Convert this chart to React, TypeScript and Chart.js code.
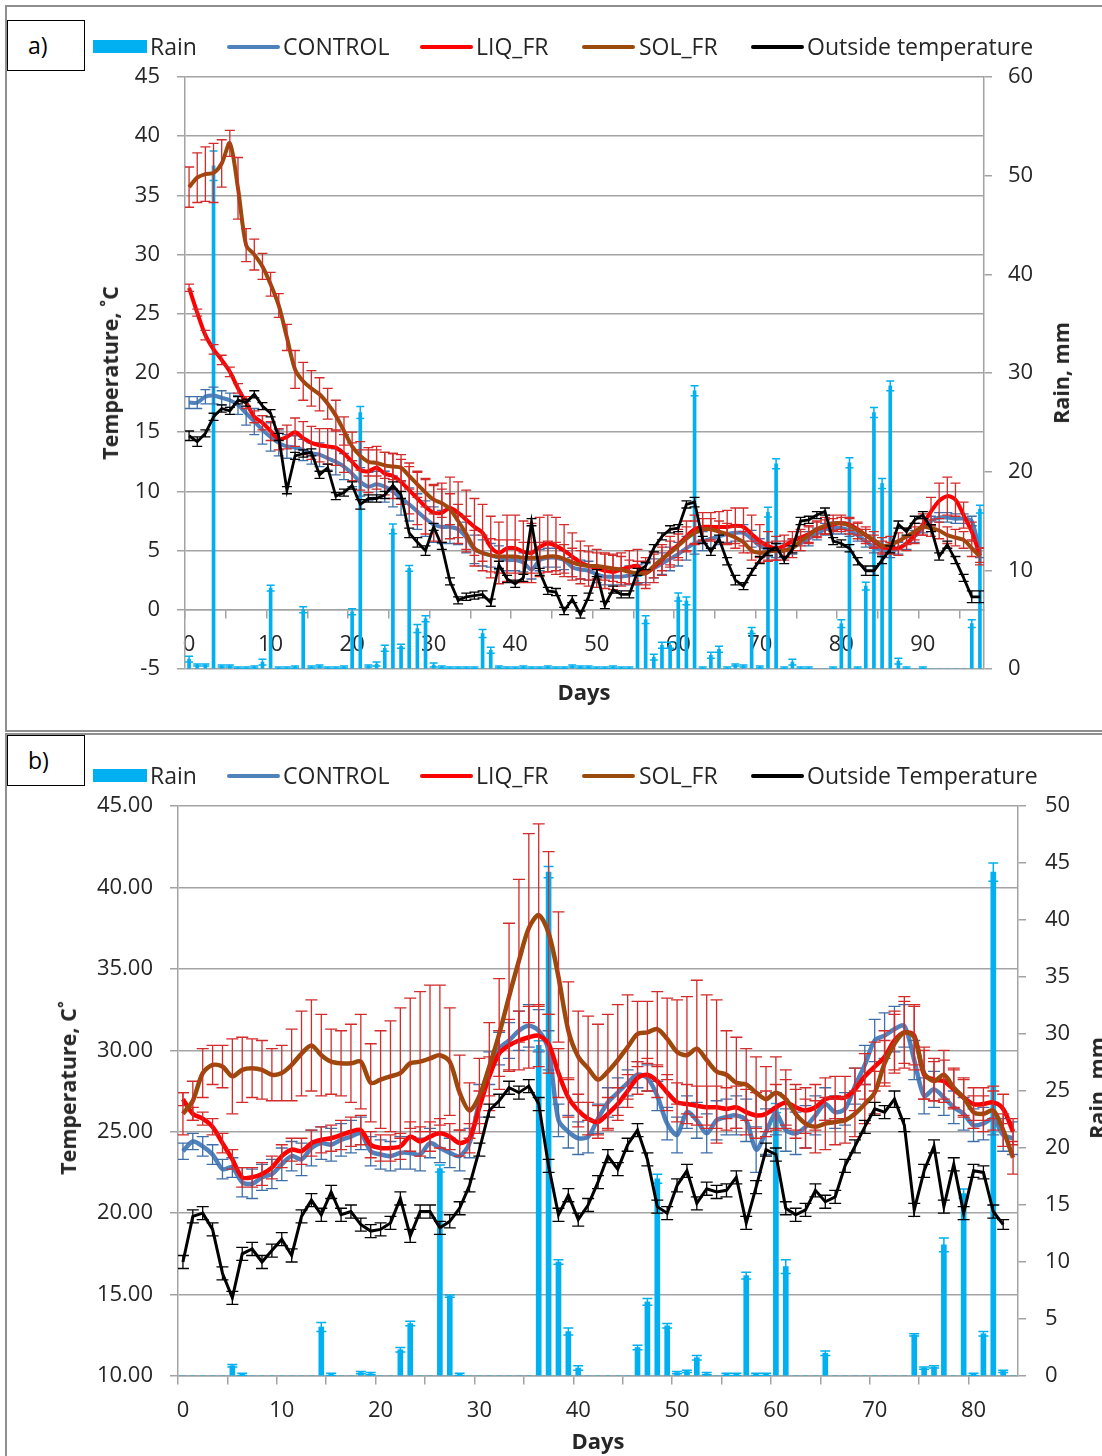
import React, { useEffect, useRef } from 'react';
import { Chart, registerables } from 'chart.js';

Chart.register(...registerables);

const FONT = '"Open Sans", Lato, "DejaVu Sans", sans-serif';
const GRID = '#a3a3a3';
const TEXT = '#262626';
const RAIN_COLOR = '#00B0F0';
const CONTROL_COLOR = '#4F81BD';
const LIQ_COLOR = '#FF0000';
const SOL_COLOR = '#9A4A0B';
const OUT_COLOR = '#000000';
const ERR_RED = '#D42A2A';
const ERR_BLUE = '#3F6FA8';

// ---------- Panel a: days 0..97 ----------
const daysA = Array.from({ length: 98 }, (_, i) => String(i));
const namesA = ['Rain', 'CONTROL', 'LIQ_FR', 'SOL_FR', 'Outside temperature'];

const rainA = [
  1.0, 0.4, 0.4, 51.0, 0.3, 0.3, 0.1, 0.1, 0.2, 0.7,
  8.2, 0.1, 0.1, 0.2, 6.0, 0.2, 0.3, 0.1, 0.1, 0.2,
  5.8, 26.0, 0.3, 0.5, 2.1, 14.2, 2.3, 10.2, 4.1, 5.1,
  0.4, 0.2, 0.1, 0.1, 0.1, 0.1, 3.6, 1.9, 0.2, 0.1,
  0.1, 0.2, 0.1, 0.1, 0.2, 0.1, 0.1, 0.3, 0.2, 0.2,
  0.1, 0.1, 0.2, 0.1, 0.1, 9.0, 5.0, 1.2, 2.4, 2.4,
  7.3, 6.9, 28.2, 0.1, 1.4, 2.0, 0.1, 0.4, 0.3, 3.9,
  0.2, 15.9, 20.8, 0.1, 0.7, 0.1, 0.1, 0, 0, 0.1,
  4.6, 20.9, 0.1, 8.4, 26.0, 18.8, 28.7, 0.8, 0.1, 0,
  0.1, 0, 0, 0, 0, 0, 4.6, 16.2,
];
const rainErrA = [
  0.3, 0.1, 0.1, 1.5, 0.1, 0.1, 0.1, 0.1, 0.1, 0.3,
  0.3, 0.1, 0.1, 0.1, 0.3, 0.1, 0.1, 0.1, 0.1, 0.1,
  0.3, 0.6, 0.1, 0.2, 0.3, 0.5, 0.2, 0.3, 0.4, 0.3,
  0.2, 0.1, 0.1, 0.1, 0.1, 0.1, 0.4, 0.3, 0.1, 0.1,
  0.1, 0.1, 0.1, 0.1, 0.1, 0.1, 0.1, 0.1, 0.1, 0.1,
  0.1, 0.1, 0.1, 0.1, 0.1, 0.4, 0.4, 0.3, 0.3, 0.3,
  0.4, 0.4, 0.5, 0.1, 0.3, 0.3, 0.1, 0.1, 0.1, 0.3,
  0.1, 0.5, 0.5, 0.1, 0.3, 0.1, 0.1, 0, 0, 0.1,
  0.4, 0.5, 0.1, 0.4, 0.5, 0.5, 0.5, 0.3, 0.1, 0,
  0.1, 0, 0, 0, 0, 0, 0.4, 0.4,
];
const controlA = [
  17.5, 17.5, 18.0, 18.1, 17.9, 17.7, 17.3, 16.6, 15.9, 15.2,
  14.6, 14.1, 13.8, 13.7, 13.5, 13.2, 13.1, 12.8, 12.5, 12.1,
  11.5, 10.8, 10.4, 10.6, 10.4, 10.0, 9.4, 8.9, 8.3, 7.7,
  7.2, 7.0, 7.0, 6.8, 6.1, 5.1, 4.8, 4.6, 4.4, 4.2,
  4.2, 4.0, 3.4, 4.2, 4.4, 4.4, 4.2, 3.6, 3.4, 3.3,
  3.0, 2.8, 2.8, 2.8, 2.9, 3.0, 3.1, 3.5, 3.9, 4.3,
  4.7, 5.2, 5.6, 5.8, 6.0, 6.2, 6.4, 6.5, 6.5, 6.0,
  5.4, 5.1, 5.0, 5.0, 5.3, 5.6, 6.0, 6.4, 6.8, 6.9,
  6.9, 6.7, 6.3, 5.8, 5.3, 5.0, 4.9, 5.2, 5.6, 6.2,
  6.9, 7.5, 7.8, 7.8, 7.7, 7.7, 7.5, 4.8,
];
const controlErrA = [
  0.5, 0.5, 0.6, 0.7, 0.6, 0.6, 0.8, 1.0, 1.1, 1.2,
  1.2, 1.1, 1.0, 1.0, 0.9, 0.9, 1.0, 1.0, 1.1, 1.1,
  1.1, 1.2, 1.2, 1.1, 1.3, 1.3, 1.4, 1.4, 1.5, 1.5,
  1.5, 1.4, 1.4, 1.3, 1.3, 1.2, 1.1, 1.0, 1.0, 0.9,
  0.9, 0.8, 0.8, 0.9, 0.8, 0.8, 0.8, 0.8, 0.8, 0.8,
  0.7, 0.7, 0.7, 0.7, 0.8, 0.8, 0.8, 0.8, 0.9, 1.0,
  1.0, 1.0, 0.9, 0.8, 0.8, 0.7, 0.7, 0.7, 0.7, 0.7,
  0.6, 0.6, 0.6, 0.6, 0.6, 0.6, 0.6, 0.5, 0.5, 0.5,
  0.5, 0.5, 0.5, 0.5, 0.5, 0.5, 0.5, 0.5, 0.5, 0.5,
  0.4, 0.4, 0.4, 0.4, 0.4, 0.4, 0.4, 0.4,
];
const liqA = [
  27.2, 25.1, 23.2, 22.0, 21.1, 20.1, 18.7, 17.5, 16.3, 15.8,
  15.1, 14.4, 14.6, 15.0, 14.5, 14.1, 13.9, 13.8, 13.7, 13.2,
  12.5, 11.8, 11.7, 12.0, 11.5, 11.3, 10.8, 10.1, 9.4, 8.7,
  8.2, 8.2, 8.6, 8.2, 7.6, 7.0, 6.5, 5.3, 4.8, 5.2,
  5.2, 4.9, 4.8, 5.3, 5.6, 5.4, 5.0, 4.5, 4.0, 3.7,
  3.5, 3.3, 3.2, 3.4, 3.6, 3.7, 3.1, 3.6, 4.2, 4.9,
  5.5, 6.2, 6.8, 7.0, 7.0, 7.0, 7.0, 7.1, 7.0, 6.4,
  5.8, 5.4, 5.2, 5.4, 5.8, 6.1, 6.4, 6.8, 7.0, 7.2,
  7.3, 7.2, 6.8, 6.3, 5.8, 5.3, 5.2, 5.2, 5.6, 6.3,
  7.2, 8.3, 9.2, 9.6, 9.3, 8.0, 6.6, 4.6,
];
const liqErrA = [
  0.3, 0.3, 0.4, 0.4, 0.4, 0.4, 0.4, 0.5, 0.5, 0.6,
  0.8, 0.9, 1.0, 1.2, 1.4, 1.4, 1.4, 1.5, 1.5, 1.6,
  1.6, 1.7, 1.8, 1.8, 1.8, 1.9, 1.9, 2.0, 2.2, 2.3,
  2.4, 2.5, 2.6, 2.6, 2.5, 2.4, 2.4, 2.6, 2.6, 2.8,
  2.8, 2.6, 2.5, 2.5, 2.4, 2.4, 2.2, 2.0, 1.8, 1.7,
  1.6, 1.5, 1.5, 1.4, 1.4, 1.4, 1.3, 1.3, 1.3, 1.3,
  1.3, 1.3, 1.2, 1.2, 1.2, 1.3, 1.4, 1.5, 1.6, 1.6,
  1.4, 1.2, 1.0, 0.9, 0.8, 0.7, 0.7, 0.6, 0.6, 0.5,
  0.5, 0.5, 0.5, 0.5, 0.5, 0.5, 0.5, 0.6, 0.6, 0.7,
  0.9, 1.2, 1.5, 1.6, 1.4, 1.1, 0.8, 0.6,
];
const solA = [
  35.7, 36.5, 36.8, 36.9, 37.7, 39.4, 35.6, 30.8, 30.0, 29.0,
  27.5, 25.7, 23.0, 20.3, 19.3, 18.7, 18.2, 17.4, 16.4, 15.1,
  13.8, 13.0, 12.5, 12.4, 12.2, 12.1, 12.0, 11.3, 10.6, 9.9,
  9.3, 9.0, 8.5, 7.5, 6.4, 5.2, 4.8, 4.6, 4.5, 4.5,
  4.5, 4.4, 4.4, 4.4, 4.5, 4.5, 4.3, 4.0, 3.8, 3.7,
  3.7, 3.6, 3.5, 3.4, 3.2, 3.1, 3.1, 3.7, 4.3, 4.8,
  5.4, 6.0, 6.5, 6.8, 6.8, 6.6, 6.4, 6.1, 5.7, 5.0,
  4.8, 4.9, 5.0, 5.0, 5.2, 5.8, 6.3, 6.8, 7.1, 7.3,
  7.3, 7.1, 6.7, 6.3, 5.9, 5.4, 5.5, 5.8, 6.2, 6.6,
  7.0, 6.9, 6.7, 6.3, 6.1, 5.9, 5.2, 4.5,
];
const solErrA = [
  1.7, 2.1, 2.3, 2.5, 2.0, 1.1, 2.6, 1.4, 1.3, 1.1,
  1.0, 1.0, 1.1, 1.6, 1.6, 1.5, 1.4, 1.3, 1.3, 1.2,
  1.2, 1.2, 1.2, 1.1, 1.1, 1.1, 1.1, 1.1, 1.1, 1.2,
  1.2, 1.2, 1.3, 1.4, 1.5, 1.5, 1.5, 1.4, 1.4, 1.4,
  1.4, 1.3, 1.3, 1.3, 1.3, 1.2, 1.2, 1.2, 1.2, 1.2,
  1.1, 1.1, 1.1, 1.1, 1.0, 1.0, 1.0, 1.0, 1.0, 1.0,
  1.0, 1.0, 1.0, 0.9, 0.9, 0.9, 0.9, 0.9, 0.9, 0.8,
  0.8, 0.8, 0.8, 0.8, 0.8, 0.8, 0.7, 0.7, 0.7, 0.7,
  0.7, 0.7, 0.7, 0.7, 0.7, 0.7, 0.7, 0.7, 0.7, 0.7,
  0.7, 0.7, 0.7, 0.7, 0.7, 0.7, 0.7, 0.7,
];
const outsideA = [
  14.7, 14.2, 14.9, 16.3, 17.0, 16.8, 17.7, 17.5, 18.2, 17.2,
  16.6, 14.6, 10.1, 13.0, 13.2, 13.3, 11.4, 12.0, 9.6, 9.9,
  10.5, 8.9, 9.4, 9.4, 9.7, 10.5, 9.7, 6.5, 5.7, 5.0,
  7.0, 5.4, 2.4, 0.8, 1.1, 1.2, 1.3, 0.6, 3.8, 2.6,
  2.2, 2.7, 7.4, 3.2, 1.6, 1.5, -0.1, 0.9, -0.4, 1.1,
  3.1, 0.4, 1.7, 1.3, 1.3, 3.2, 3.7, 5.2, 6.2, 6.8,
  6.9, 8.9, 9.1, 5.9, 4.9, 6.0, 4.1, 2.5, 2.0, 3.2,
  4.2, 4.9, 5.3, 4.2, 5.1, 7.5, 7.6, 8.0, 8.3, 5.8,
  5.6, 5.2, 4.1, 3.3, 3.3, 4.2, 5.1, 7.2, 6.6, 7.6,
  8.0, 6.9, 4.5, 5.5, 4.2, 2.7, 1.1, 1.1,
];
const outsideErrA = [
  0.4, 0.4, 0.3, 0.3, 0.3, 0.3, 0.3, 0.3, 0.3, 0.3,
  0.3, 0.3, 0.3, 0.3, 0.3, 0.3, 0.3, 0.3, 0.3, 0.3,
  0.3, 0.4, 0.3, 0.3, 0.3, 0.3, 0.3, 0.4, 0.4, 0.4,
  0.3, 0.3, 0.3, 0.3, 0.3, 0.3, 0.3, 0.3, 0.3, 0.3,
  0.3, 0.3, 0.3, 0.3, 0.3, 0.3, 0.3, 0.3, 0.3, 0.3,
  0.3, 0.3, 0.3, 0.3, 0.3, 0.3, 0.3, 0.3, 0.3, 0.3,
  0.3, 0.3, 0.4, 0.3, 0.3, 0.3, 0.3, 0.4, 0.3, 0.3,
  0.3, 0.3, 0.3, 0.3, 0.3, 0.3, 0.3, 0.3, 0.3, 0.3,
  0.3, 0.3, 0.3, 0.4, 0.4, 0.3, 0.3, 0.3, 0.3, 0.3,
  0.3, 0.3, 0.3, 0.3, 0.3, 0.3, 0.5, 0.5,
];

// ---------- Panel b: days 0..84 ----------
const daysB = Array.from({ length: 85 }, (_, i) => String(i));
const namesB = ['Rain', 'CONTROL', 'LIQ_FR', 'SOL_FR', 'Outside Temperature'];

const rainB = [
  0, 0, 0, 0, 0, 0.9, 0.15, 0, 0, 0,
  0, 0, 0, 0, 4.3, 0.15, 0, 0, 0.3, 0.2,
  0, 0, 2.3, 4.6, 0, 0, 18.2, 7.0, 0.15, 0,
  0, 0, 0, 0, 0, 0, 29.0, 44.2, 10.0, 3.9,
  0.7, 0, 0, 0, 0, 0, 2.5, 6.5, 17.3, 4.4,
  0.3, 0.4, 1.6, 0.2, 0, 0.15, 0.15, 8.8, 0.15, 0.15,
  23.5, 9.6, 0, 0, 0, 2.0, 0, 0, 0, 0,
  0, 0, 0, 0, 3.6, 0.7, 0.8, 11.5, 0, 16.0,
  0.15, 3.7, 44.2, 0.4, 0,
];
const rainErrB = [
  0, 0, 0, 0, 0, 0.1, 0.1, 0, 0, 0,
  0, 0, 0, 0, 0.4, 0.1, 0, 0, 0.1, 0.1,
  0, 0, 0.2, 0.2, 0, 0, 0.3, 0.1, 0.1, 0,
  0, 0, 0, 0, 0, 0, 0.4, 0.5, 0.2, 0.3,
  0.2, 0, 0, 0, 0, 0, 0.2, 0.3, 0.4, 0.2,
  0.1, 0.1, 0.2, 0.1, 0, 0.1, 0.1, 0.3, 0.1, 0.1,
  0.4, 0.6, 0, 0, 0, 0.2, 0, 0, 0, 0,
  0, 0, 0, 0, 0.1, 0.1, 0.1, 0.6, 0, 0.4,
  0.1, 0.2, 0.8, 0.1, 0,
];
const controlB = [
  23.8, 24.4, 24.1, 23.6, 22.7, 22.8, 21.9, 21.8, 22.2, 22.4,
  23.0, 23.5, 23.3, 24.0, 24.3, 24.2, 24.5, 24.7, 24.9, 23.8,
  23.6, 23.5, 23.7, 23.7, 23.6, 24.3, 24.0, 23.7, 23.5, 24.3,
  26.9, 28.9, 30.1, 30.6, 31.2, 31.5, 31.2, 30.0, 25.7, 25.0,
  24.6, 24.7, 25.8, 26.8, 27.4, 28.0, 28.5, 28.3, 27.2, 25.5,
  24.8, 26.2, 25.7, 24.9, 25.7, 25.9, 26.0, 25.7, 23.9, 25.0,
  26.1, 25.1, 24.9, 25.3, 26.0, 26.7, 26.2, 26.4, 27.8, 29.1,
  30.6, 30.9, 31.3, 31.5, 29.4, 27.2, 27.6, 27.1, 26.5, 26.1,
  25.4, 25.5, 25.8, 24.8, 24.6,
];
const controlErrB = [
  0.5, 0.5, 0.6, 0.6, 0.6, 0.6, 0.9, 0.9, 0.8, 0.9,
  1.0, 0.9, 1.0, 1.1, 1.0, 1.0, 1.0, 1.0, 1.0, 0.9,
  0.9, 0.9, 1.0, 1.0, 1.0, 0.9, 0.9, 0.9, 0.9, 0.9,
  1.0, 1.0, 1.0, 1.1, 1.2, 1.3, 1.3, 1.2, 1.0, 1.0,
  1.0, 1.0, 0.9, 0.9, 0.9, 0.8, 0.8, 0.8, 0.9, 1.0,
  1.1, 1.0, 1.1, 1.2, 1.2, 1.1, 1.2, 1.3, 1.4, 1.4,
  1.3, 1.3, 1.3, 1.3, 1.2, 1.0, 1.0, 1.0, 1.1, 1.2,
  1.3, 1.4, 1.4, 1.3, 1.2, 1.1, 1.1, 1.1, 1.0, 1.0,
  1.0, 1.0, 1.0, 1.0, 1.0,
];
const liqB = [
  27.0, 26.1, 25.8, 25.3, 24.3, 23.3, 22.2, 22.2, 22.4, 22.8,
  23.5, 23.9, 23.8, 24.3, 24.5, 24.6, 24.8, 25.0, 25.1, 24.2,
  24.0, 24.0, 24.1, 24.7, 24.4, 24.7, 24.9, 24.7, 24.3, 24.6,
  26.5, 28.4, 29.8, 30.3, 30.6, 30.8, 30.9, 30.4, 28.6, 27.1,
  26.3, 25.8, 25.6, 26.1, 26.7, 27.5, 28.3, 28.5, 28.1, 27.4,
  26.8, 26.7, 26.6, 26.5, 26.5, 26.4, 26.5, 26.2, 26.0, 26.1,
  26.5, 26.8, 26.5, 26.3, 26.5, 27.0, 27.1, 27.1, 27.6, 28.4,
  29.0, 29.6, 30.6, 31.1, 30.9, 28.5, 28.2, 28.1, 27.6, 27.1,
  26.7, 26.7, 26.8, 26.4, 25.0,
];
const liqErrB = [
  0.4, 0.4, 0.4, 0.5, 0.6, 0.6, 0.6, 0.6, 0.7, 0.7,
  0.7, 0.7, 0.8, 0.8, 0.8, 0.8, 0.9, 0.9, 0.9, 0.8,
  0.8, 0.8, 0.8, 0.9, 0.9, 0.9, 0.9, 0.8, 0.8, 0.9,
  1.0, 1.2, 1.4, 1.6, 1.8, 1.9, 1.9, 1.8, 1.5, 1.2,
  1.0, 1.0, 1.0, 1.0, 1.0, 1.0, 1.0, 1.0, 1.0, 1.1,
  1.2, 1.2, 1.2, 1.3, 1.3, 1.3, 1.3, 1.4, 1.4, 1.4,
  1.4, 1.4, 1.4, 1.4, 1.4, 1.3, 1.3, 1.3, 1.3, 1.4,
  1.5, 1.6, 1.8, 1.9, 1.8, 1.5, 1.3, 1.3, 1.2, 1.1,
  1.0, 1.0, 1.0, 0.9, 0.8,
];
const solB = [
  26.1, 26.9, 28.6, 29.1, 29.0, 28.4, 28.8, 28.9, 28.8, 28.5,
  28.6, 29.1, 29.8, 30.3, 29.7, 29.3, 29.2, 29.2, 29.3, 28.0,
  28.2, 28.4, 28.6, 29.2, 29.3, 29.5, 29.7, 29.3, 27.4, 26.3,
  27.2, 29.0, 31.0, 33.3, 35.5, 37.5, 38.3, 37.2, 34.5, 31.2,
  29.6, 28.9, 28.2, 28.7, 29.4, 30.2, 31.0, 31.1, 31.3, 30.7,
  29.9, 29.7, 30.1, 29.4, 28.7, 28.5, 28.0, 27.9, 27.4, 27.0,
  27.4, 27.0, 26.1, 25.5, 25.3, 25.5, 25.6, 25.7, 26.1, 26.7,
  27.4, 29.2, 30.4, 31.1, 30.8, 28.6, 28.1, 28.5, 27.7, 27.1,
  26.2, 26.1, 26.3, 25.1, 23.4,
];
const solErrB = [
  1.3, 1.2, 1.5, 1.2, 1.3, 2.3, 2.0, 1.8, 1.8, 1.6,
  1.7, 2.2, 2.6, 2.8, 2.5, 2.0, 2.0, 2.4, 2.9, 2.4,
  3.0, 3.4, 4.0, 4.0, 4.3, 4.5, 4.3, 3.3, 2.3, 1.7,
  2.3, 2.7, 3.4, 4.5, 5.0, 5.8, 5.6, 5.0, 4.0, 3.0,
  2.8, 3.2, 3.4, 3.5, 3.4, 3.2, 2.0, 1.9, 2.3, 2.5,
  3.2, 3.6, 4.2, 4.0, 4.4, 2.7, 2.8, 2.2, 2.2, 2.0,
  2.2, 1.8, 1.5, 1.5, 1.6, 1.6, 1.4, 1.4, 1.4, 1.2,
  1.3, 1.4, 1.8, 2.2, 2.0, 1.6, 1.2, 1.5, 1.2, 1.2,
  1.0, 1.1, 1.2, 1.0, 1.0,
];
const outsideB = [
  17.0, 19.8, 20.0, 19.0, 16.3, 14.8, 17.5, 17.8, 17.0, 17.7,
  18.4, 17.4, 19.8, 20.8, 19.9, 21.3, 19.9, 20.1, 19.3, 18.9,
  19.0, 19.4, 20.9, 18.6, 20.1, 20.1, 19.1, 19.5, 20.3, 21.7,
  23.9, 26.3, 26.9, 27.7, 27.4, 27.8, 26.7, 22.9, 19.9, 21.1,
  19.6, 20.5, 21.9, 23.5, 22.7, 24.2, 25.1, 23.3, 20.4, 20.0,
  21.7, 22.6, 20.6, 21.5, 21.3, 21.4, 22.2, 19.4, 21.6, 23.9,
  23.6, 20.3, 19.9, 20.2, 21.4, 20.7, 21.0, 22.9, 24.1, 25.3,
  26.4, 26.2, 27.0, 25.4, 20.2, 22.6, 24.1, 20.4, 23.0, 20.0,
  22.6, 22.5, 20.1, 19.3, null,
];
const outsideErrB = [
  0.4, 0.4, 0.4, 0.4, 0.4, 0.4, 0.4, 0.4, 0.4, 0.4,
  0.4, 0.4, 0.4, 0.4, 0.4, 0.4, 0.4, 0.4, 0.4, 0.4,
  0.4, 0.4, 0.4, 0.4, 0.4, 0.4, 0.4, 0.4, 0.4, 0.4,
  0.4, 0.4, 0.4, 0.4, 0.4, 0.4, 0.4, 0.4, 0.4, 0.4,
  0.4, 0.4, 0.4, 0.4, 0.4, 0.4, 0.4, 0.4, 0.4, 0.4,
  0.4, 0.4, 0.4, 0.4, 0.4, 0.4, 0.4, 0.4, 0.4, 0.4,
  0.4, 0.4, 0.4, 0.4, 0.4, 0.4, 0.4, 0.4, 0.4, 0.4,
  0.4, 0.4, 0.5, 0.4, 0.4, 0.4, 0.4, 0.4, 0.4, 0.4,
  0.4, 0.4, 0.4, 0.3, 0,
];

// Draws symmetric error bars with caps for each dataset, right after that dataset.
function errorBars(specs: any[]) {
  return {
    id: 'errorBars',
    afterDatasetDraw(chart: any, args: any) {
      const spec = specs[args.index];
      if (!spec) return;
      const meta = args.meta;
      const values = chart.data.datasets[args.index].data;
      const scale = chart.scales[meta.yAxisID];
      const { left, right, top, bottom } = chart.chartArea;
      const ctx = chart.ctx;
      ctx.save();
      ctx.beginPath();
      ctx.rect(left, top, right - left, bottom - top);
      ctx.clip();
      ctx.strokeStyle = spec.color;
      ctx.lineWidth = spec.width;
      ctx.beginPath();
      const h = spec.cap / 2;
      meta.data.forEach((el: any, i: number) => {
        const v = values[i];
        const e = spec.errors[i];
        if (v == null || !e) return;
        const x = el.x;
        const yHi = scale.getPixelForValue(v + e);
        const yLo = scale.getPixelForValue(v - e);
        ctx.moveTo(x, yHi);
        ctx.lineTo(x, yLo);
        ctx.moveTo(x - h, yHi);
        ctx.lineTo(x + h, yHi);
        ctx.moveTo(x - h, yLo);
        ctx.lineTo(x + h, yLo);
      });
      ctx.stroke();
      ctx.restore();
    },
  };
}

function makeConfig(p: any) {
  const tickFont = { family: FONT, size: 22 };
  const specs = [
    { errors: p.rainErr, color: RAIN_COLOR, cap: p.cap - 2, width: 1.5 },
    { errors: p.controlErr, color: ERR_BLUE, cap: p.cap, width: 1.3 },
    { errors: p.liqErr, color: ERR_RED, cap: p.cap, width: 1.3 },
    { errors: p.solErr, color: ERR_RED, cap: p.cap, width: 1.3 },
    { errors: p.outsideErr, color: OUT_COLOR, cap: p.cap, width: 1.3 },
  ];
  return {
    type: 'bar',
    data: {
      labels: p.labels,
      datasets: [
        { type: 'bar', label: p.names[0], data: p.rain, yAxisID: 'y2', backgroundColor: RAIN_COLOR, barThickness: p.barW, order: 5 },
        { type: 'line', label: p.names[1], data: p.control, yAxisID: 'y', borderColor: CONTROL_COLOR, borderWidth: p.lineW, pointRadius: 0, tension: 0.3, order: 4 },
        { type: 'line', label: p.names[2], data: p.liq, yAxisID: 'y', borderColor: LIQ_COLOR, borderWidth: p.lineW, pointRadius: 0, tension: 0.3, order: 3 },
        { type: 'line', label: p.names[3], data: p.sol, yAxisID: 'y', borderColor: SOL_COLOR, borderWidth: p.lineW, pointRadius: 0, tension: 0.3, order: 2 },
        { type: 'line', label: p.names[4], data: p.outside, yAxisID: 'y', borderColor: OUT_COLOR, borderWidth: p.outW, pointRadius: 0, tension: 0, order: 1 },
      ],
    },
    options: {
      responsive: false,
      animation: false,
      devicePixelRatio: 1,
      layout: { padding: { top: p.padTop, bottom: p.padBottom, left: 0, right: 0 } },
      plugins: { legend: { display: false }, tooltip: { enabled: false } },
      scales: {
        x: {
          type: 'category',
          position: { y: p.xAt },
          offset: true,
          grid: {
            offset: true,
            drawOnChartArea: false,
            drawTicks: true,
            tickLength: 8,
            lineWidth: 1.5,
            color: (c: any) => (c.index % 5 === 0 ? GRID : 'rgba(0,0,0,0)'),
          },
          border: { display: true, color: GRID, width: 1.5 },
          ticks: {
            autoSkip: false,
            maxRotation: 0,
            minRotation: 0,
            padding: 14,
            color: TEXT,
            font: tickFont,
            callback: (_v: any, i: number) => (i % 10 === 0 ? p.labels[i] : ''),
          },
        },
        y: {
          position: 'left',
          min: p.tMin,
          max: p.tMax,
          afterFit: (s: any) => { s.width = p.leftW; },
          grid: { color: GRID, lineWidth: 1.5, tickLength: 8 },
          border: { display: true, color: GRID, width: 1.5 },
          ticks: { stepSize: p.tStep, padding: p.yPad, color: TEXT, font: tickFont, callback: (v: number) => Number(v).toFixed(p.decimals) },
        },
        y2: {
          position: 'right',
          min: 0,
          max: p.rMax,
          afterFit: (s: any) => { s.width = p.rightW; },
          grid: { drawOnChartArea: false, color: GRID, lineWidth: 1.5, tickLength: 8 },
          border: { display: true, color: GRID, width: 1.5 },
          ticks: { stepSize: p.rStep, padding: p.y2Pad, color: TEXT, font: tickFont },
        },
      },
    },
    plugins: [errorBars(specs)],
  };
}

const configA = () =>
  makeConfig({
    labels: daysA, names: namesA,
    rain: rainA, rainErr: rainErrA, control: controlA, controlErr: controlErrA,
    liq: liqA, liqErr: liqErrA, sol: solA, solErr: solErrA, outside: outsideA, outsideErr: outsideErrA,
    tMin: -5, tMax: 45, tStep: 5, decimals: 0, rMax: 60, rStep: 10, xAt: 0,
    leftW: 185, rightW: 118, padTop: 77, padBottom: 62, yPad: 17, y2Pad: 16,
    barW: 3, lineW: 4, outW: 2.8, cap: 10,
  });

const configB = () =>
  makeConfig({
    labels: daysB, names: namesB,
    rain: rainB, rainErr: rainErrB, control: controlB, controlErr: controlErrB,
    liq: liqB, liqErr: liqErrB, sol: solB, solErr: solErrB, outside: outsideB, outsideErr: outsideErrB,
    tMin: 10, tMax: 45, tStep: 5, decimals: 2, rMax: 50, rStep: 5, xAt: 10,
    leftW: 178, rightW: 84, padTop: 71, padBottom: 80, yPad: 17, y2Pad: 19,
    barW: 5, lineW: 4.5, outW: 3, cap: 12,
  });

function ChartCanvas({ build, left, top, width, height }: any) {
  const ref = useRef<HTMLCanvasElement | null>(null);
  useEffect(() => {
    if (!ref.current) return;
    const chart = new Chart(ref.current, build());
    return () => chart.destroy();
  }, []);
  return (
    <canvas
      ref={ref}
      width={width}
      height={height}
      style={{ position: 'absolute', left, top, width, height }}
    />
  );
}

const legendText: React.CSSProperties = {
  position: 'absolute',
  fontSize: 23,
  lineHeight: '28px',
  color: TEXT,
  whiteSpace: 'nowrap',
};

function Legend({ cy, names }: { cy: number; names: string[] }) {
  const colors = [RAIN_COLOR, CONTROL_COLOR, LIQ_COLOR, SOL_COLOR, OUT_COLOR];
  const markX = [93, 227, 420, 582, 751];
  const textX = [150, 283, 476, 639, 807];
  return (
    <>
      {names.map((n, i) => (
        <React.Fragment key={n}>
          {i === 0 ? (
            <div style={{ position: 'absolute', left: markX[i], top: cy - 7, width: 54, height: 13, background: colors[i] }} />
          ) : (
            <div style={{ position: 'absolute', left: markX[i], top: cy - 2, width: 53, height: 4, background: colors[i], borderRadius: 2 }} />
          )}
          <div style={{ ...legendText, left: textX[i], top: cy - 15 }}>{n}</div>
        </React.Fragment>
      ))}
    </>
  );
}

function VTitle({ cx, cy, text }: { cx: number; cy: number; text: string }) {
  return (
    <div
      style={{
        position: 'absolute',
        left: cx,
        top: cy,
        transform: 'translate(-50%, -50%) rotate(-90deg)',
        fontSize: 21.5,
        fontWeight: 700,
        color: TEXT,
        whiteSpace: 'nowrap',
        lineHeight: '26px',
      }}
    >
      {text}
    </div>
  );
}

function HTitle({ cx, cy, text }: { cx: number; cy: number; text: string }) {
  return (
    <div
      style={{
        position: 'absolute',
        left: cx,
        top: cy,
        transform: 'translate(-50%, -50%)',
        fontSize: 22,
        fontWeight: 700,
        color: TEXT,
        whiteSpace: 'nowrap',
        lineHeight: '26px',
      }}
    >
      {text}
    </div>
  );
}

function Tag({ top, text }: { top: number; text: string }) {
  return (
    <div
      style={{
        position: 'absolute',
        left: 7,
        top,
        width: 78,
        height: 51,
        boxSizing: 'border-box',
        border: '1.5px solid #000',
        background: '#fff',
        fontSize: 23,
        lineHeight: '48px',
        paddingLeft: 20,
        color: '#000',
      }}
    >
      {text}
    </div>
  );
}

export default function App() {
  return (
    <div
      style={{
        position: 'absolute',
        left: 0,
        top: 0,
        width: 1102,
        height: 1456,
        overflow: 'hidden',
        background: '#fff',
        fontFamily: FONT,
      }}
    >
      <div style={{ position: 'absolute', left: 5, top: 5, width: 1130, height: 727, boxSizing: 'border-box', border: '2px solid #8f8f8f' }} />
      <div style={{ position: 'absolute', left: 5, top: 733, width: 1130, height: 800, boxSizing: 'border-box', border: '2px solid #8f8f8f' }} />

      <ChartCanvas build={configA} left={0} top={0} width={1102} height={731} />
      <ChartCanvas build={configB} left={0} top={735} width={1102} height={721} />

      <Tag top={20} text="a)" />
      <Legend cy={47} names={namesA} />
      <VTitle cx={110} cy={373} text="Temperature, ˚C" />
      <VTitle cx={1061} cy={373} text="Rain, mm" />
      <HTitle cx={584} cy={691} text="Days" />

      <Tag top={735} text="b)" />
      <Legend cy={776} names={namesB} />
      <VTitle cx={68} cy={1088} text="Temperature, C˚" />
      <VTitle cx={1097} cy={1088} text="Rain, mm" />
      <HTitle cx={598} cy={1440} text="Days" />
    </div>
  );
}
